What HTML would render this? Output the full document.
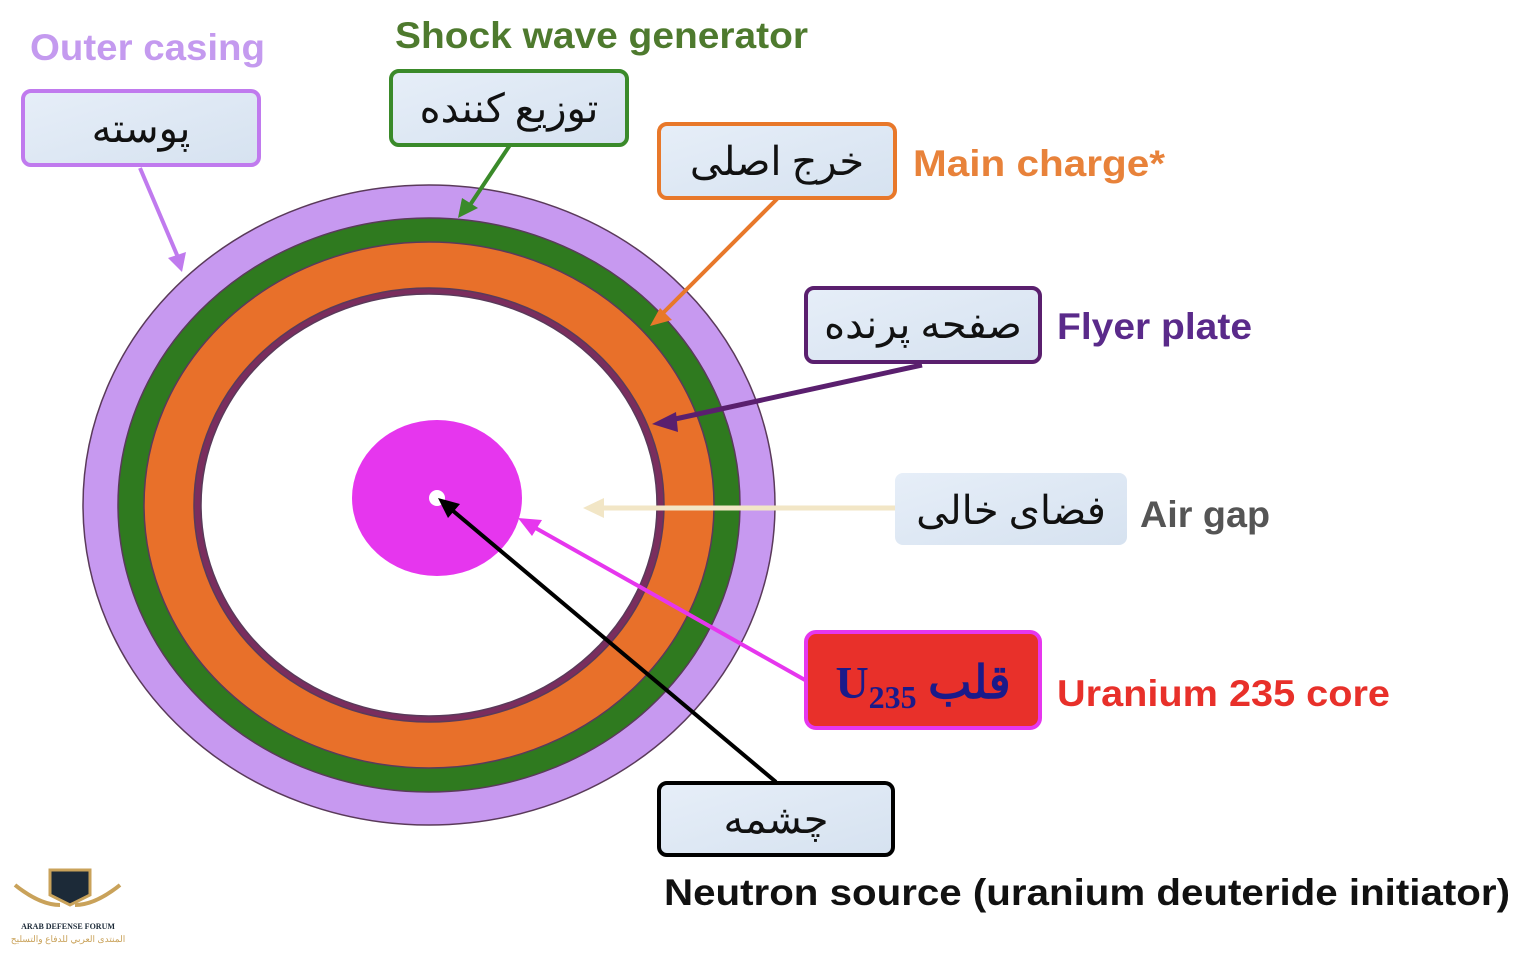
<!DOCTYPE html>
<html><head><meta charset="utf-8"><style>
body{margin:0;width:1536px;height:949px;background:#fff;overflow:hidden;font-family:"Liberation Sans",sans-serif}
</style></head><body>
<svg width="1536" height="949" xmlns="http://www.w3.org/2000/svg">
<defs>
<linearGradient id="bx" x1="0" y1="0" x2="1" y2="1"><stop offset="0" stop-color="#e6eef8"/><stop offset="1" stop-color="#d6e2f0"/></linearGradient>
</defs>
<g stroke="#5a3a5a" stroke-width="1.5">
<ellipse cx="429" cy="505" rx="346" ry="320" fill="#c799f0"/>
<ellipse cx="429" cy="505" rx="311" ry="287" fill="#2f7a1f"/>
<ellipse cx="429" cy="505" rx="285" ry="263" fill="#e8702a"/>
<ellipse cx="429" cy="505" rx="235" ry="217" fill="#7a2d5e"/>
<ellipse cx="429" cy="505" rx="228" ry="211" fill="#fff"/>
</g>
<ellipse cx="437" cy="498" rx="85" ry="78" fill="#e636ee"/>
<circle cx="437" cy="498" r="8" fill="#fff"/>
<g stroke-width="4" fill="none">
<line x1="140" y1="168" x2="180" y2="262" stroke="#c07aee"/>
<path d="M168,258L182,272L186,252z" fill="#c07aee" stroke="none"/>
<line x1="510" y1="145" x2="470" y2="205" stroke="#3a8a2a"/>
<path d="M458,218L462,198L478,208z" fill="#3a8a2a" stroke="none"/>
<line x1="778" y1="198" x2="660" y2="316" stroke="#e8782a"/>
<path d="M650,326L672,320L660,308z" fill="#e8782a" stroke="none"/>
<line x1="922" y1="365" x2="666" y2="421" stroke="#5a1f6e" stroke-width="5"/>
<path d="M652,424L676,412L678,432z" fill="#5a1f6e" stroke="none"/>
<line x1="895" y1="508" x2="600" y2="508" stroke="#f2e6c6" stroke-width="5"/>
<path d="M583,508L604,498L604,518z" fill="#f2e6c6" stroke="none"/>
<line x1="805" y1="680" x2="532" y2="526" stroke="#e636ee"/>
<path d="M518,518L542,520L532,536z" fill="#e636ee" stroke="none"/>
<line x1="776" y1="782" x2="452" y2="510" stroke="#000"/>
<path d="M438,498L460,504L448,518z" fill="#000" stroke="none"/>
</g>
<g stroke-width="4" fill="url(#bx)">
<rect x="23" y="91" width="236" height="74" rx="8" stroke="#c07aee"/>
<rect x="391" y="71" width="236" height="74" rx="8" stroke="#3a8a2a"/>
<rect x="659" y="124" width="236" height="74" rx="8" stroke="#e8782a"/>
<rect x="806" y="288" width="234" height="74" rx="8" stroke="#5a1f6e"/>
<rect x="895" y="473" width="232" height="72" rx="8" stroke="none"/>
<rect x="806" y="632" width="234" height="96" rx="10" stroke="#e636ee" fill="#e8302a"/>
<rect x="659" y="783" width="234" height="72" rx="8" stroke="#000"/>
</g>
<g font-family="'Liberation Serif','Noto Serif CJK SC',serif" font-size="40" text-anchor="middle" fill="#111">
<text x="141" y="142">پوسته</text>
<text x="509" y="122">توزیع کننده</text>
<text x="777" y="175">خرج اصلی</text>
<text x="923" y="338">صفحه پرنده</text>
<text x="1011" y="524">فضای خالی</text>
<text x="776" y="833">چشمه</text>
<text x="923" y="698" fill="#1a1a8a" font-weight="bold" font-size="46">U<tspan font-size="32" dy="10">235</tspan><tspan dy="-10"> قلب</tspan></text>
</g>
<g font-weight="bold" font-size="37" lengthAdjust="spacingAndGlyphs">
<text x="30" y="60" fill="#c49aef" textLength="235" lengthAdjust="spacingAndGlyphs">Outer casing</text>
<text x="395" y="48" fill="#4e7a2e" textLength="413" lengthAdjust="spacingAndGlyphs">Shock wave generator</text>
<text x="913" y="176" fill="#e8823a" textLength="252" lengthAdjust="spacingAndGlyphs">Main charge*</text>
<text x="1057" y="339" fill="#5a2a8a" textLength="195" lengthAdjust="spacingAndGlyphs">Flyer plate</text>
<text x="1140" y="527" fill="#555" textLength="130" lengthAdjust="spacingAndGlyphs">Air gap</text>
<text x="1057" y="706" fill="#e8302a" textLength="333" lengthAdjust="spacingAndGlyphs">Uranium 235 core</text>
<text x="664" y="905" fill="#111" textLength="846" lengthAdjust="spacingAndGlyphs">Neutron source (uranium deuteride initiator)</text>
</g>
<g>
<path d="M50,870L90,870L90,895L70,905L50,895z" fill="#1c2a38" stroke="#c9a25a" stroke-width="3"/>
<path d="M15,885Q40,905 60,905M120,885Q95,905 75,905" stroke="#c9a25a" stroke-width="4" fill="none"/>
<text x="68" y="929" font-size="8" text-anchor="middle" font-family="'Liberation Serif',serif" fill="#1c2a38" font-weight="bold">ARAB DEFENSE FORUM</text>
<text x="68" y="942" font-size="9" text-anchor="middle" fill="#c9a25a">المنتدى العربي للدفاع والتسليح</text>
</g>
</svg>
</body></html>
